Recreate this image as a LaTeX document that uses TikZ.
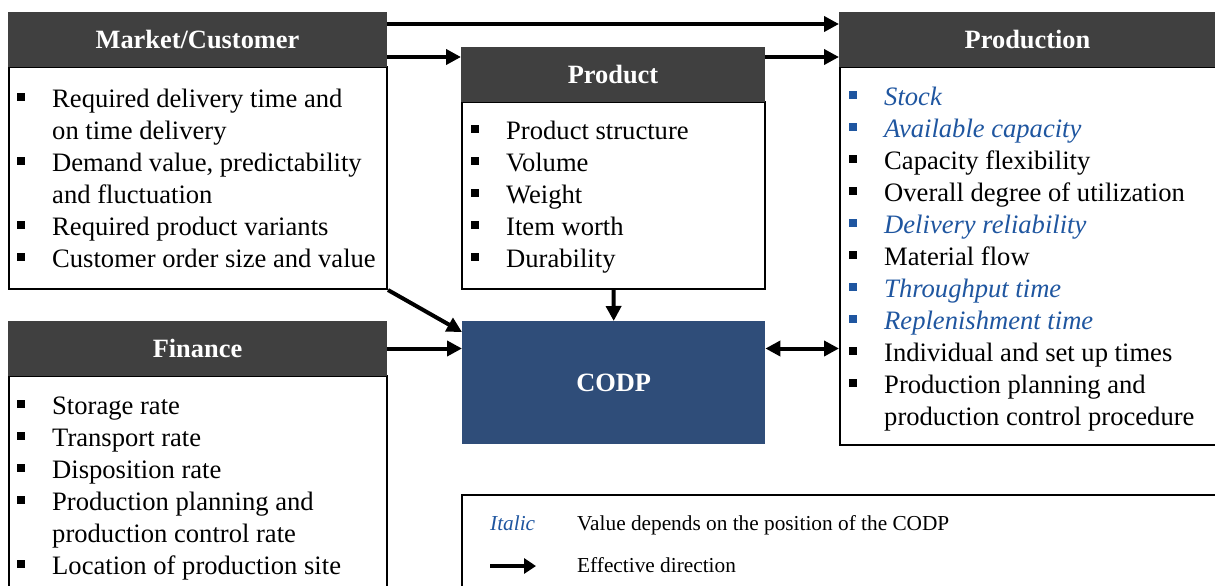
\documentclass[tikz,border=0pt]{standalone}
\usepackage{fontspec}
\setmainfont{Liberation Serif}
\usetikzlibrary{arrows.meta,calc}
\definecolor{hdrgray}{RGB}{64,64,64}
\definecolor{myblue}{RGB}{31,86,160}
\definecolor{codpblue}{RGB}{47,77,121}
\newcommand\bk[4]{% name, text x, baseline y, text
  \fill[black] (#2-35,#3-14) rectangle ++(8,8);
  \node[txt, anchor=base west] (#1) at (#2,#3) {#4};}
\newcommand\bbl[4]{%
  \fill[myblue] (#2-35,#3-14) rectangle ++(8,8);
  \node[btxt, anchor=base west] (#1) at (#2,#3) {#4};}
\newcommand\nb[4]{%
  \node[txt, anchor=base west] (#1) at (#2,#3) {#4};}
\begin{document}
\begin{tikzpicture}[x=1pt,y=-1pt,
  txt/.style={inner sep=0pt, font=\fontsize{26.6}{30}\selectfont},
  btxt/.style={txt, text=myblue, font=\fontsize{26.6}{30}\selectfont\itshape},
  hdr/.style={fill=hdrgray, draw=hdrgray, line width=1pt, text=white, anchor=north west, inner sep=0pt,
    font=\fontsize{26.4}{30}\selectfont\bfseries},
  body/.style={draw=black, line width=2pt, anchor=north west, inner sep=0pt},
  arr/.style={line width=4pt, -{Triangle[length=15pt,width=15pt]}},
  darr/.style={line width=4pt, {Triangle[length=15pt,width=15pt]}-{Triangle[length=15pt,width=15pt]}},
  lgd/.style={inner sep=0pt, font=\fontsize{21.3}{24}\selectfont}]
\clip (0,0) rectangle (1215,586);
\fill[white] (0,0) rectangle (1215,586);
% Market/Customer
\node[body, minimum width=378, minimum height=222] (mb) at (8,66) {};
\node[hdr, minimum width=378, minimum height=54] (mh) at (8,12) {Market/Customer};
% Product
\node[body, minimum width=303, minimum height=187] (pb) at (461,101) {};
\node[hdr, minimum width=303, minimum height=54] (ph) at (461,47) {Product};
% Production
\node[body, minimum width=400, minimum height=378] (rb) at (839,66) {};
\node[hdr, minimum width=400, minimum height=54] (rh) at (839,12) {\hspace*{-24pt}Production};
% Finance
\node[body, minimum width=378, minimum height=260] (fb) at (8,375) {};
\node[hdr, minimum width=378, minimum height=54] (fh) at (8,321) {Finance};
% CODP
\node[fill=codpblue, anchor=north west, minimum width=303, minimum height=123, inner sep=0pt,
  text=white, font=\fontsize{26.4}{30}\selectfont\bfseries] (codp) at (462,321) {CODP};
% Legend box
\node[body, minimum width=800, minimum height=150] (lg) at (461,494) {};

% Market items
\bk{m1}{52}{107}{Required delivery time and}
\nb{m2}{52}{139}{on time delivery}
\bk{m3}{52}{171}{Demand value, predictability}
\nb{m4}{52}{203}{and fluctuation}
\bk{m5}{52}{235}{Required product variants}
\bk{m6}{52}{267}{Customer order size and value}
% Product items
\bk{p1}{506}{139}{Product structure}
\bk{p2}{506}{171}{Volume}
\bk{p3}{506}{203}{Weight}
\bk{p4}{506}{235}{Item worth}
\bk{p5}{506}{267}{Durability}
% Production items
\bbl{r1}{884}{105}{Stock}
\bbl{r2}{884}{137}{Available capacity}
\bk{r3}{884}{169}{Capacity flexibility}
\bk{r4}{884}{201}{Overall degree of utilization}
\bbl{r5}{884}{233}{Delivery reliability}
\bk{r6}{884}{265}{Material flow}
\bbl{r7}{884}{297}{Throughput time}
\bbl{r8}{884}{329}{Replenishment time}
\bk{r9}{884}{361}{Individual and set up times}
\bk{r10}{884}{393}{Production planning and}
\nb{r11}{884}{425}{production control procedure}
% Finance items
\bk{f1}{52}{414}{Storage rate}
\bk{f2}{52}{446}{Transport rate}
\bk{f3}{52}{478}{Disposition rate}
\bk{f4}{52}{510}{Production planning and}
\nb{f5}{52}{542}{production control rate}
\bk{f6}{52}{574}{Location of production site}

% connectors
\coordinate (ya) at (0,24);
\coordinate (yb) at (0,57);
\draw[arr] (mh.east |- ya) -- (rh.west |- ya);
\draw[arr] (mh.east |- yb) -- (ph.west |- yb);
\draw[arr] (ph.east |- yb) -- (rh.west |- yb);
\draw[arr] (mb.south east) -- ($(codp.north west)+(0,11)$);
\draw[arr] (pb.south) -- (codp.north);
\draw[arr] (fh.east) -- (codp.west |- fh.east);
\draw[darr] (codp.east |- fh.east) -- (rb.west |- fh.east);

% legend
\node[lgd, text=myblue, font=\fontsize{21.3}{24}\selectfont\itshape, anchor=base west] (li) at (490,530) {Italic};
\node[lgd, anchor=base west] (lt1) at (577,530) {Value depends on the position of the CODP};
\coordinate (la1) at (490,566);
\coordinate (la2) at (536,566);
\draw[line width=4pt, -{Triangle[length=12pt,width=15pt]}] (la1) -- (la2);
\node[lgd, anchor=base west] (lt2) at (577,572) {Effective direction};
\end{tikzpicture}
\end{document}
